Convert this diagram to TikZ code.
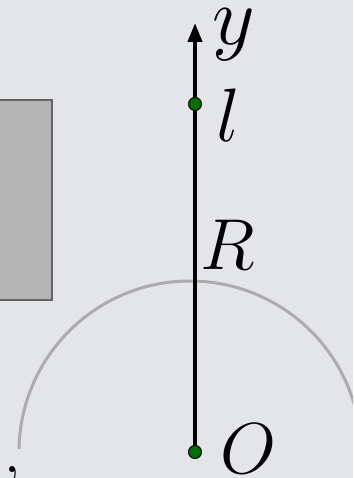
\documentclass[tikz,border=0pt]{standalone}
\usetikzlibrary{arrows.meta}
\definecolor{cBack}{RGB}{227,229,232}
\definecolor{cBlock}{RGB}{180,180,180}
\definecolor{cBlockE}{RGB}{100,100,100}
\definecolor{cRim}{RGB}{172,172,172}
\definecolor{cDot}{RGB}{0,110,0}

\begin{document}
\begin{tikzpicture}[
  x=1pt,y=1pt, font=\Huge,
  axisline/.style={draw=black, line width=4pt, -{Triangle[length=19pt,width=14pt]}},
  rim/.style     ={draw=cRim,  line width=3pt},
  block/.style   ={fill=cBlock, draw=cBlockE, line width=1.5pt},
  dot/.style     ={circle, fill=cDot, draw=black, line width=1pt,
                   inner sep=0pt, minimum size=13pt},
  lbl/.style     ={anchor=base west, inner sep=0pt, scale=2.9},
]

% ----- geometry --------------------------------------------------------
\def\W{353}\def\H{478}
\def\xA{195}\def\yO{26}\def\yL{374}\def\yT{455}

% ----- background ------------------------------------------------------
\fill[cBack] (0,0) rectangle (\W,\H);
\useasboundingbox (0,0) rectangle (\W,\H);
\clip (0,0) rectangle (\W,\H);

% ----- block on the left -----------------------------------------------
\draw[block] (-5,178) rectangle (52,378);

% ----- circle of radius R ----------------------------------------------
\draw[rim] (190+171*cos 179,26+171*sin 179) arc[start angle=179, end angle=-10, radius=171];

% ----- axis ------------------------------------------------------------
\node[dot] (O) at (\xA,\yO) {};
\coordinate (ytip) at (\xA,\yT);
\draw[axisline] (O) -- (ytip);
\node[dot] (L) at (\xA,\yL) {};

% ----- labels ----------------------------------------------------------
\node[lbl,scale=1.15] (ylab) at (212,433) {$y$};
\node[lbl,scale=1.05] (llab) at (216,336) {$l$};
\node[lbl] (Rlab) at (200,208) {$R$};
\node[lbl] (Olab) at (220,4)   {$O$};
\node[lbl] (comma) at (3,5)    {,};

\end{tikzpicture}
\end{document}
